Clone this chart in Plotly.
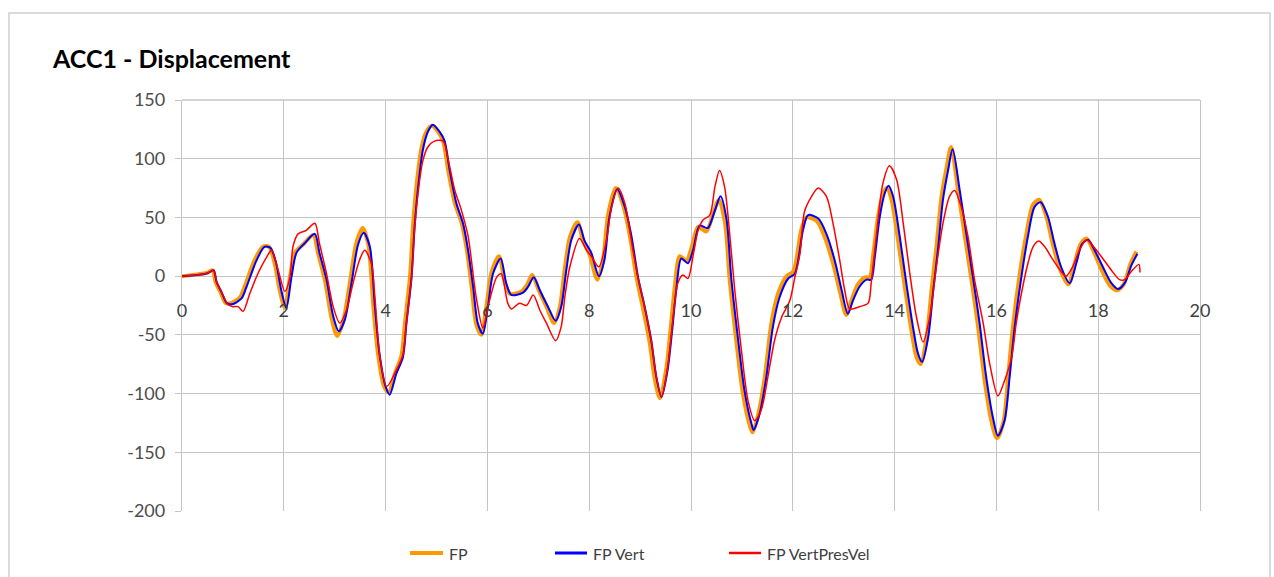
import plotly.graph_objects as go

# ---- series: time [s] and displacement ----
fp_t = [0.00, 0.30, 0.50, 0.60, 0.66, 0.76, 0.86, 0.96, 1.14, 1.23, 1.43, 1.59, 1.71, 1.82, 1.92,
        2.02, 2.12, 2.22, 2.38, 2.58, 2.67, 2.81, 2.94, 3.05, 3.17, 3.30, 3.43, 3.55, 3.66, 3.76,
        3.85, 3.97, 4.06, 4.19, 4.31, 4.38, 4.48, 4.54, 4.61, 4.70, 4.80, 4.91, 5.03, 5.13, 5.23,
        5.36, 5.49, 5.59, 5.69, 5.78, 5.88, 5.98, 6.08, 6.23, 6.34, 6.44, 6.67, 6.77, 6.88, 7.00,
        7.16, 7.31, 7.42, 7.52, 7.62, 7.77, 7.88, 8.01, 8.16, 8.27, 8.37, 8.52, 8.67, 8.80, 8.93,
        9.06, 9.19, 9.29, 9.39, 9.51, 9.60, 9.68, 9.78, 9.91, 10.01, 10.14, 10.30, 10.44, 10.55,
        10.67, 10.76, 10.89, 11.02, 11.16, 11.21, 11.32, 11.45, 11.58, 11.71, 11.88, 12.01, 12.17,
        12.27, 12.47, 12.63, 12.79, 12.93, 13.05, 13.15, 13.28, 13.42, 13.51, 13.58, 13.68, 13.78,
        13.85, 13.94, 14.07, 14.20, 14.33, 14.43, 14.51, 14.63, 14.73, 14.82, 14.92, 15.02, 15.11,
        15.25, 15.38, 15.51, 15.64, 15.77, 15.90, 16.01, 16.14, 16.23, 16.33, 16.46, 16.59, 16.72,
        16.84, 16.98, 17.11, 17.24, 17.41, 17.54, 17.65, 17.77, 17.90, 18.06, 18.23, 18.37, 18.50,
        18.63, 18.75]
fp_v = [0, 1.5, 3, 5, -5, -14, -23, -23, -18, -9, 14, 25, 25, 11, -12,
        -27, -1, 20, 27, 35, 20, -4, -36, -51, -38, -5, 29, 41, 27, -26,
        -66, -94, -99, -82, -68, -40, 0, 44, 78, 108, 123, 128, 123, 115, 90,
        62, 46, 24, -9, -41, -50, -26, 3, 17, -5, -15, -13, -8, 1, -11,
        -26, -40, -27, 6, 33, 46, 30, 18, -3, 13, 52, 75, 60, 34, -1,
        -28, -57, -88, -104, -80, -45, -10, 17, 13, 24, 42, 38, 54, 65,
        45, -3, -55, -100, -128, -133, -118, -86, -40, -15, 0, 4, 40,
        50, 47, 33, 11, -14, -33, -21, -7, -1, -1, 18, 52, 71,
        75, 65, 30, -9, -46, -69, -75, -52, -10, 24, 67, 92, 110,
        72, 34, -3, -43, -89, -123, -138, -124, -86, -41, 2, 36, 61,
        65, 51, 27, 7, -7, 11, 27, 32, 22, 6, -8, -12, -7,
        10, 21]

fpvert_t = [0.00, 0.30, 0.50, 0.62, 0.68, 0.78, 0.88, 0.98, 1.17, 1.26, 1.46, 1.62, 1.74, 1.85, 1.95,
            2.05, 2.15, 2.25, 2.41, 2.61, 2.70, 2.84, 2.97, 3.08, 3.20, 3.33, 3.46, 3.57, 3.69, 3.79,
            3.88, 4.00, 4.08, 4.21, 4.34, 4.41, 4.51, 4.57, 4.64, 4.73, 4.83, 4.93, 5.06, 5.16, 5.26,
            5.39, 5.52, 5.62, 5.72, 5.81, 5.91, 6.01, 6.11, 6.26, 6.37, 6.47, 6.70, 6.80, 6.91, 7.03,
            7.19, 7.34, 7.45, 7.55, 7.65, 7.80, 7.91, 8.04, 8.19, 8.30, 8.40, 8.55, 8.70, 8.83, 8.96,
            9.09, 9.22, 9.32, 9.42, 9.54, 9.63, 9.71, 9.81, 9.94, 10.04, 10.17, 10.33, 10.47, 10.58,
            10.70, 10.79, 10.92, 11.05, 11.19, 11.23, 11.35, 11.48, 11.61, 11.74, 11.91, 12.04, 12.20,
            12.30, 12.50, 12.66, 12.82, 12.96, 13.08, 13.18, 13.31, 13.45, 13.54, 13.61, 13.71, 13.81,
            13.88, 13.97, 14.10, 14.23, 14.36, 14.46, 14.54, 14.66, 14.76, 14.85, 14.95, 15.05, 15.14,
            15.28, 15.41, 15.54, 15.67, 15.80, 15.93, 16.03, 16.16, 16.26, 16.36, 16.49, 16.62, 16.75,
            16.87, 17.01, 17.14, 17.27, 17.44, 17.57, 17.68, 17.80, 17.93, 18.09, 18.26, 18.39, 18.52,
            18.65, 18.77]
fpvert_v = [0, 1, 2.5, 5, -5, -14, -23, -24, -19, -10, 13, 25, 24, 11, -12,
            -27, -1, 20, 28, 36, 20, -3, -34, -47, -37, -6, 27, 37, 25, -26,
            -66, -94, -101, -83, -69, -40, -1, 42, 76, 107, 123, 129, 123, 115, 90,
            62, 45, 22, -9, -40, -49, -26, 2, 15, -6, -16, -14, -9, -1, -12,
            -26, -38, -26, 5, 31, 44, 30, 20, 0, 14, 51, 74, 59, 34, -1,
            -26, -55, -86, -103, -80, -46, -12, 15, 11, 22, 43, 41, 56, 68,
            48, -1, -52, -97, -126, -131, -117, -86, -43, -18, -2, 2, 39,
            52, 49, 36, 14, -12, -32, -21, -9, -3, -3, 16, 51, 71,
            77, 68, 34, -6, -43, -66, -73, -52, -12, 22, 65, 90, 108,
            73, 36, -1, -40, -86, -120, -136, -123, -86, -43, -1, 34, 59,
            63, 51, 28, 8, -6, 11, 27, 31, 22, 8, -6, -11, -6,
            9, 19]

fpvpv_t = [0.00, 0.30, 0.50, 0.62, 0.68, 0.78, 0.90, 1.00, 1.10, 1.20, 1.33, 1.49, 1.66, 1.76, 1.89,
           2.02, 2.12, 2.18, 2.28, 2.44, 2.61, 2.70, 2.84, 2.97, 3.10, 3.23, 3.36, 3.49, 3.59, 3.72,
           3.79, 3.88, 4.02, 4.21, 4.34, 4.41, 4.51, 4.57, 4.64, 4.73, 4.83, 4.96, 5.13, 5.23, 5.36,
           5.49, 5.62, 5.78, 5.91, 6.04, 6.18, 6.27, 6.40, 6.47, 6.63, 6.77, 6.90, 7.03, 7.16, 7.34,
           7.45, 7.52, 7.62, 7.81, 7.95, 8.04, 8.19, 8.34, 8.44, 8.57, 8.70, 8.86, 8.96, 9.09, 9.22,
           9.32, 9.42, 9.54, 9.65, 9.74, 9.84, 9.94, 10.04, 10.14, 10.24, 10.37, 10.47, 10.56, 10.66,
           10.76, 10.86, 10.99, 11.12, 11.25, 11.38, 11.51, 11.64, 11.78, 11.94, 12.04, 12.14, 12.23,
           12.37, 12.50, 12.66, 12.79, 12.92, 13.02, 13.12, 13.31, 13.48, 13.54, 13.64, 13.77, 13.90,
           14.04, 14.17, 14.30, 14.43, 14.56, 14.69, 14.82, 14.95, 15.08, 15.18, 15.31, 15.44, 15.57,
           15.74, 15.87, 16.03, 16.16, 16.30, 16.39, 16.49, 16.62, 16.72, 16.83, 16.95, 17.11, 17.27,
           17.37, 17.50, 17.63, 17.77, 17.93, 18.09, 18.26, 18.42, 18.52, 18.65, 18.80, 18.82]
fpvpv_v = [0, 1, 2.5, 5, -5, -14, -24, -26, -26, -30, -15, 2, 16, 22, 5,
           -13, -1, 25, 36, 39, 45, 28, 2, -26, -40, -29, -6, 14, 22, 11,
           -18, -66, -94, -80, -67, -40, -1, 40, 72, 98, 110, 115, 115, 99, 73,
           56, 34, -18, -44, -21, -1, 2, -23, -28, -23, -25, -16, -29, -40, -55,
           -43, -18, 8, 32, 22, 17, 8, 31, 59, 75, 62, 22, -1, -26, -55,
           -86, -103, -78, -35, -6, 1, -2, 17, 39, 48, 52, 76, 90, 76,
           36, -12, -63, -106, -123, -114, -86, -55, -35, -21, -1, 19, 55,
           68, 75, 68, 45, 14, -12, -28, -26, -23, -6, 34, 79, 94,
           82, 45, 2, -35, -56, -35, 8, 45, 68, 73, 59, 34, -3,
           -40, -75, -102, -89, -69, -40, -15, 11, 25, 30, 25, 14, 4,
           0, 8, 22, 31, 24, 15, 5, -3, -3, 4, 10, 3]

series_names = ["FP", "FP Vert", "FP VertPresVel"]
series_colors = ["#FF9900", "#0000FF", "#FF0000"]
series_widths = [4, 2, 1.5]
x_ticks = list(range(0, 21, 2))
y_ticks = list(range(-200, 151, 50))
y_tick_text = [str(v) for v in y_ticks]

GRID = "#C4C4C4"
TXT = "#4D4D4D"
FONT = "Lato, 'Open Sans', sans-serif"

fig = go.Figure()
for t, v, name, col, w in zip([fp_t, fpvert_t, fpvpv_t], [fp_v, fpvert_v, fpvpv_v],
                              series_names, series_colors, series_widths):
    fig.add_trace(go.Scatter(x=t, y=v, mode="lines", name=name, showlegend=False,
                             line=dict(color=col, width=w, shape="spline", smoothing=0.8)))

# plot area: x 182..1200 px, y 100..511 px
W, H = 1274, 577
L, R, T, B = 182, 1200, 100, 511
pw, ph = R - L, B - T

def px_x(p):
    return (p - L) / pw

def px_y(p):
    return (B - p) / ph

zero_pos = px_y(276)

fig.update_layout(
    width=W, height=H,
    margin=dict(l=L, r=W - R, t=T, b=H - B),
    paper_bgcolor="white", plot_bgcolor="white",
    font=dict(family=FONT, color=TXT),
    xaxis=dict(range=[0, 20], tickvals=x_ticks, showgrid=True, gridcolor=GRID, gridwidth=1.3,
               zeroline=False, showline=False, anchor="free", position=zero_pos,
               ticks="", ticklabelstandoff=22, tickfont=dict(size=18, color="#404040")),
    yaxis=dict(range=[-200, 150], tickvals=y_ticks, ticktext=y_tick_text,
               showgrid=True, gridcolor=GRID, gridwidth=1.3,
               zeroline=True, zerolinecolor=GRID, zerolinewidth=1.3,
               showline=True, linecolor=GRID, linewidth=1.3, mirror=True,
               ticks="outside", ticklen=6, tickcolor=GRID, ticklabelstandoff=6,
               tickfont=dict(size=18, color=TXT)),
)

shapes = []
# chart frame
shapes.append(dict(type="rect", xref="paper", yref="paper",
                   x0=px_x(9), x1=px_x(1270), y0=px_y(600), y1=px_y(13),
                   line=dict(color="#D0D0D0", width=1.5), fillcolor="rgba(0,0,0,0)", layer="below"))
# top border of plot area
shapes.append(dict(type="line", xref="paper", yref="paper", x0=0, x1=1, y0=1, y1=1,
                   line=dict(color=GRID, width=1.3), layer="below"))

annotations = [dict(text="<b>ACC1 - Displacement</b>", xref="paper", yref="paper",
                    x=px_x(50), y=px_y(58), xanchor="left", yanchor="middle", showarrow=False,
                    font=dict(family=FONT, size=25, color="#000000"))]

# legend row
leg_y = px_y(553)
leg_items = [(410, 443, 447), (555, 587, 591), (729, 761, 765)]
for (a, b, tx), name, col, w in zip(leg_items, series_names, series_colors, series_widths):
    shapes.append(dict(type="line", xref="paper", yref="paper", x0=px_x(a), x1=px_x(b),
                       y0=leg_y, y1=leg_y, line=dict(color=col, width=w + 1 if w < 3 else w)))
    annotations.append(dict(text=name, xref="paper", yref="paper", x=px_x(tx), y=leg_y,
                            xanchor="left", yanchor="middle", showarrow=False,
                            font=dict(family=FONT, size=16, color="#404040")))

fig.update_layout(shapes=shapes, annotations=annotations)
fig.write_html("out.html")
